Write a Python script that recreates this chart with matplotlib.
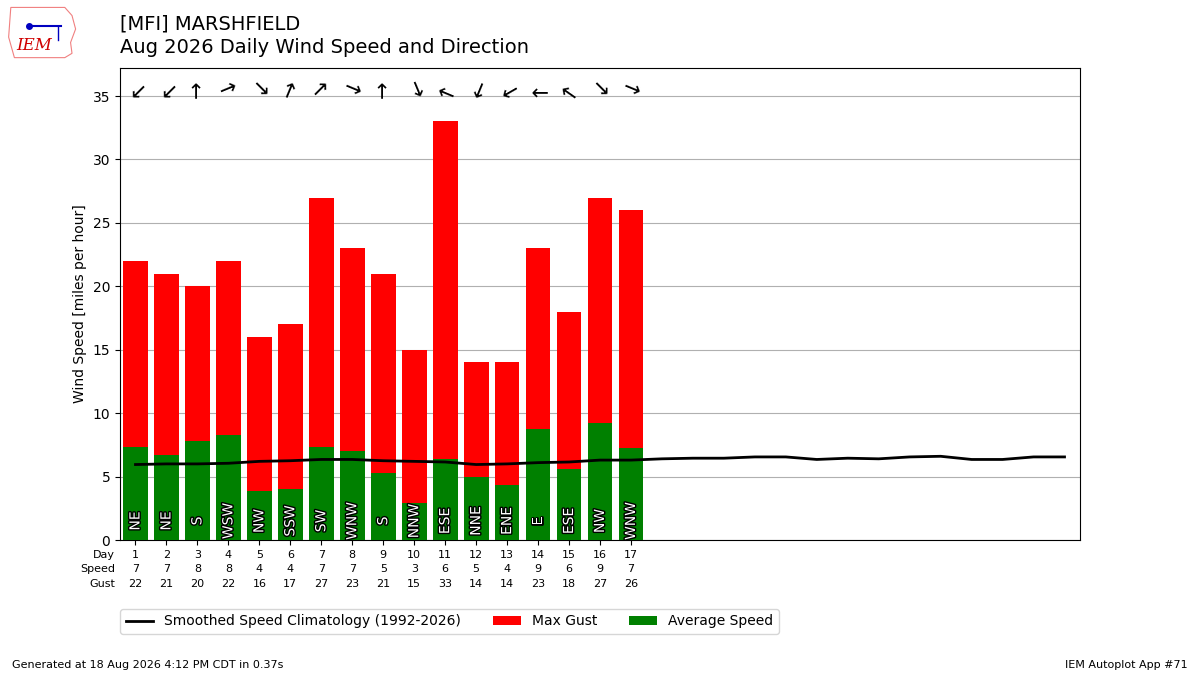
import matplotlib
matplotlib.use("Agg")
import matplotlib.pyplot as plt
import matplotlib.patheffects as PathEffects
from matplotlib.patches import Polygon

days = list(range(1, 18))
avg_speed = [7.3, 6.7, 7.8, 8.25, 3.85, 4.0, 7.3, 7.0, 5.3, 2.9, 6.35, 5.0, 4.35, 8.75, 5.6, 9.25, 7.25]
max_gust = [22, 21, 20, 22, 16, 17, 27, 23, 21, 15, 33, 14, 14, 23, 18, 27, 26]
dir_labels = ["NE", "NE", "S", "WSW", "NW", "SSW", "SW", "WNW", "S", "NNW",
              "ESE", "NNE", "ENE", "E", "ESE", "NW", "WNW"]
dir_degrees = [45, 45, 180, 247.5, 315, 202.5, 225, 292.5, 180, 337.5,
               112.5, 22.5, 60, 90, 125, 315, 292.5]
clim_days = list(range(1, 32))
clim_speed = [5.95, 6.0, 6.0, 6.05, 6.2, 6.25, 6.35, 6.35, 6.25, 6.2, 6.15, 5.95, 6.0,
              6.1, 6.15, 6.3, 6.3, 6.4, 6.45, 6.45, 6.55, 6.55, 6.35, 6.45, 6.4, 6.55,
              6.6, 6.35, 6.35, 6.55, 6.55]

fig = plt.figure(figsize=(12, 6.75), dpi=100)
ax = fig.add_axes([0.1, 0.2, 0.8, 0.699])

ax.bar(days, max_gust, width=0.8, color="r", label="Max Gust", zorder=2)
ax.bar(days, avg_speed, width=0.8, color="green", label="Average Speed", zorder=3)
ax.plot(clim_days, clim_speed, color="k", lw=2, zorder=4,
        label="Smoothed Speed Climatology (1992-2026)")

for d, lbl, deg in zip(days, dir_labels, dir_degrees):
    t = ax.text(d, 1.5, lbl, rotation=90, ha="center", va="center",
                color="white", fontsize=10, zorder=5)
    t.set_path_effects([PathEffects.withStroke(linewidth=2, foreground="k")])
    ax.text(d, 35.5, "\u2192", rotation=-90 - deg, ha="center", va="center",
            rotation_mode="anchor", fontsize=15, zorder=5)

ax.set_xlim(0.5, 31.5)
ax.set_ylim(0, 37.2)
ax.set_yticks(range(0, 36, 5))
ax.grid(axis="y", color="#b0b0b0", zorder=0)
ax.set_axisbelow(True)
ax.set_ylabel("Wind Speed [miles per hour]")
ax.set_xticks(days)
ax.set_xticklabels([f"{d}\n{round(s + 1e-9):.0f}\n{g}" for d, s, g in zip(days, avg_speed, max_gust)],
                   fontsize=8, linespacing=1.55)
ax.text(-0.005, -0.0212, "Day\nSpeed\nGust", transform=ax.transAxes, ha="right",
        va="top", fontsize=8, multialignment="right", linespacing=1.55)

h, l = ax.get_legend_handles_labels()
fig.legend(h, l, loc="upper left", bbox_to_anchor=(0.1, 0.098), ncol=3,
           borderaxespad=0, columnspacing=2.3)

fig.text(0.1, 0.9644, "[MFI] MARSHFIELD", fontsize=14, ha="left", va="center")
fig.text(0.1, 0.929, "Aug 2026 Daily Wind Speed and Direction", fontsize=14,
         ha="left", va="center")
fig.text(0.01, 0.01, "Generated at 18 Aug 2026 4:12 PM CDT in 0.37s", fontsize=8)
fig.text(0.99, 0.01, "IEM Autoplot App #71", fontsize=8, ha="right")

# simple logo
lax = fig.add_axes([0.006, 0.913, 0.06, 0.08])
lax.set_xlim(0, 1)
lax.set_ylim(0, 1)
lax.axis("off")
lax.add_patch(Polygon([[0.05, 0.95], [0.8, 0.95], [0.9, 0.8], [0.95, 0.55], [0.88, 0.3],
                       [0.9, 0.1], [0.8, 0.02], [0.1, 0.02], [0.02, 0.4], [0.05, 0.95]],
                      closed=True, fill=False, edgecolor="#f08080", lw=0.8))
lax.text(0.38, 0.25, "IEM", color="#d00000", fontsize=12, family="DejaVu Serif",
         style="italic", ha="center", va="center")
lax.plot([0.3, 0.75], [0.6, 0.6], color="#0000c0", lw=1.5)
lax.plot([0.3], [0.6], "o", color="#0000c0", ms=4)
lax.plot([0.7, 0.7], [0.6, 0.35], color="#0000c0", lw=1)

fig.savefig("out.png", dpi=100)
